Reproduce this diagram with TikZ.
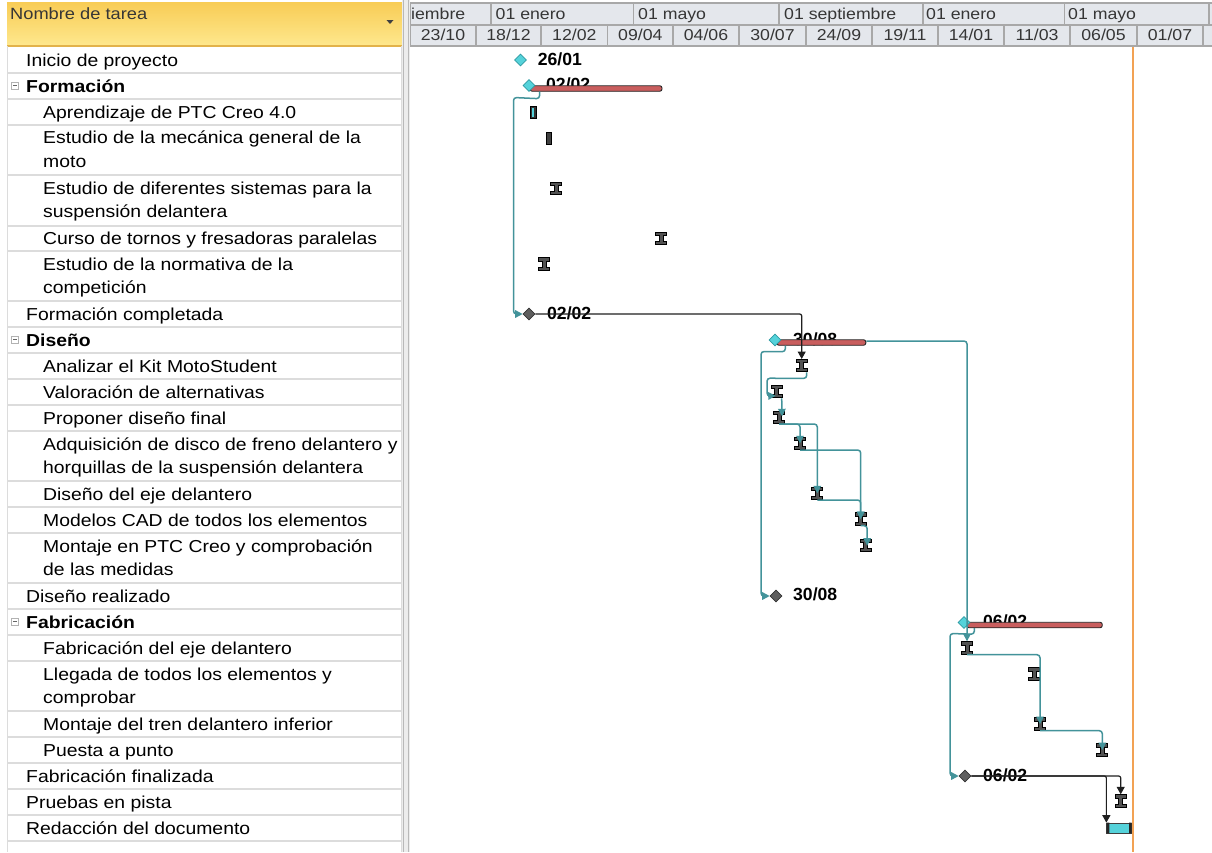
\documentclass[tikz,border=0pt]{standalone}
\usepackage{fontspec}
\setmainfont[FakeStretch=1.12]{Liberation Sans}
\newfontfamily\msfont{Liberation Sans}
\usetikzlibrary{calc,arrows.meta,shapes.geometric}
\definecolor{teal1}{HTML}{43939A}
\definecolor{redbar}{HTML}{C95E5E}
\definecolor{cyanms}{HTML}{55D2DA}
\definecolor{cyanedge}{HTML}{2E9AA3}
\definecolor{grayms}{HTML}{5E5E5E}
\definecolor{hdrfill}{HTML}{E4E7EC}
\definecolor{hdrline}{HTML}{A8A8A8}
\definecolor{rowline}{HTML}{DCDCDC}
\definecolor{ytop}{HTML}{F8CC55}
\definecolor{ybot}{HTML}{FEE88E}
\definecolor{yline}{HTML}{E2B24A}
\definecolor{orangeline}{HTML}{F2A254}
\definecolor{hdrtext}{HTML}{363636}
\definecolor{splitfill}{HTML}{ECECEC}
\definecolor{splitline}{HTML}{B8B8B8}
\tikzset{
  link/.style={draw=teal1, line width=1.5, rounded corners=3, -{Triangle[length=7.5,width=7.5]}},
  blink/.style={draw=black!88, line width=1.2, rounded corners=2, -{Triangle[length=7.5,width=8]}},
  rowtxt/.style={anchor=base west, inner sep=0, font=\fontsize{17.3}{20}\selectfont},
  rowbold/.style={rowtxt, font=\fontsize{17.3}{20}\selectfont\bfseries},
  mslabel/.style={anchor=base west, inner sep=0, font=\msfont\fontsize{17.6}{20}\selectfont\bfseries},
  hdrtxt/.style={inner sep=0, anchor=base, font=\fontsize{15.8}{18}\selectfont, text=hdrtext},
  mscyan/.style={diamond, inner sep=0, minimum width=12, minimum height=12, fill=cyanms, draw=cyanedge, line width=0.6},
  msgray/.style={diamond, inner sep=0, minimum width=12, minimum height=12, fill=grayms, draw=black!80, line width=0.6},
  sumbar/.style={rectangle, rounded corners=2.2, minimum height=5.5, inner sep=0, fill=redbar, draw=black!85, line width=0.9},
  ibeamsty/.style={fill=black!68, draw=black, line width=0.9},
}
\newcommand\ibeam[3]{%
  \node[inner sep=0, minimum width=11, minimum height=13] (#1) at (#2,#3) {};
  \filldraw[ibeamsty] (#2-5.5,#3-6.2) -- (#2+5.5,#3-6.2) -- (#2+5.5,#3-3) -- (#2+2,#3-3) -- (#2+2,#3+3) -- (#2+5.5,#3+3) -- (#2+5.5,#3+6.2) -- (#2-5.5,#3+6.2) -- (#2-5.5,#3+3) -- (#2-2,#3+3) -- (#2-2,#3-3) -- (#2-5.5,#3-3) -- cycle;
}
\begin{document}
\begin{tikzpicture}[x=1pt,y=-1pt]
\useasboundingbox (0,0) rectangle (1212,852);
\fill[white] (0,0) rectangle (1212,852);

% ---------- task table ----------
\shade[top color=ytop, bottom color=ybot] (7,2) rectangle (402,46);
\draw[yline, line width=1.2] (7,46) -- (402,46);
\node[anchor=base west, inner sep=0, font=\fontsize{16.3}{18}\selectfont, text=hdrtext] (hname) at (10,19) {Nombre de tarea};
\fill[black!75] (386.5,20) -- (393.5,20) -- (390,24) -- cycle;

\foreach \y in {73,99,125,175,226,251,301,327,353,379,405,431,481,507,533,583,609,635,661,711,737,763,789,815,841}
  \draw[rowline, line width=1.6] (7,\y) -- (402,\y);
\draw[rowline, line width=1.2] (7.5,46) -- (7.5,852);
\draw[rowline, line width=1.2] (401.5,46) -- (401.5,852);
\fill[splitfill] (402,0) rectangle (410,852);
\draw[splitline, line width=1] (403.5,0) -- (403.5,852) (408.5,0) -- (408.5,852);

% minus boxes
\foreach \y/\n in {85.7/mA,339.7/mB,621.7/mC}{
  \node[draw=black!30, fill=white, minimum size=7, inner sep=0, line width=0.6] (\n) at (15,\y) {};
  \draw[black!60, line width=0.8] (12.8,\y) -- (17.2,\y);
}

% row texts
\node[rowtxt] (r1) at (26,66.5) {Inicio de proyecto};
\node[rowbold] (r2) at (26,92.5) {Formación};
\node[rowtxt] (r3) at (43,118.5) {Aprendizaje de PTC Creo 4.0};
\node[rowtxt] (r4a) at (43,143.5) {Estudio de la mecánica general de la};
\node[rowtxt] (r4b) at (43,167.5) {moto};
\node[rowtxt] (r5a) at (43,194.5) {Estudio de diferentes sistemas para la};
\node[rowtxt] (r5b) at (43,217.5) {suspensión delantera};
\node[rowtxt] (r6) at (43,244.5) {Curso de tornos y fresadoras paralelas};
\node[rowtxt] (r7a) at (43,270.5) {Estudio de la normativa de la};
\node[rowtxt] (r7b) at (43,293.5) {competición};
\node[rowtxt] (r8) at (26,320.5) {Formación completada};
\node[rowbold] (r9) at (26,346.5) {Diseño};
\node[rowtxt] (r10) at (43,372.5) {Analizar el Kit MotoStudent};
\node[rowtxt] (r11) at (43,398.5) {Valoración de alternativas};
\node[rowtxt] (r12) at (43,424.5) {Proponer diseño final};
\node[rowtxt] (r13a) at (43,450.5) {Adquisición de disco de freno delantero y};
\node[rowtxt] (r13b) at (43,473.5) {horquillas de la suspensión delantera};
\node[rowtxt] (r14) at (43,500.5) {Diseño del eje delantero};
\node[rowtxt] (r15) at (43,526.5) {Modelos CAD de todos los elementos};
\node[rowtxt] (r16a) at (43,552.5) {Montaje en PTC Creo y comprobación};
\node[rowtxt] (r16b) at (43,575.5) {de las medidas};
\node[rowtxt] (r17) at (26,602.5) {Diseño realizado};
\node[rowbold] (r18) at (26,628.5) {Fabricación};
\node[rowtxt] (r19) at (43,654.5) {Fabricación del eje delantero};
\node[rowtxt] (r20a) at (43,680.5) {Llegada de todos los elementos y};
\node[rowtxt] (r20b) at (43,703.5) {comprobar};
\node[rowtxt] (r21) at (43,730.5) {Montaje del tren delantero inferior};
\node[rowtxt] (r22) at (43,756.5) {Puesta a punto};
\node[rowtxt] (r23) at (26,782.5) {Fabricación finalizada};
\node[rowtxt] (r24) at (26,808.5) {Pruebas en pista};
\node[rowtxt] (r25) at (26,834.5) {Redacción del documento};

% ---------- timescale ----------
\fill[hdrfill] (410,3) rectangle (1212,46);
\draw[hdrline, line width=1.4] (410,3) -- (1212,3) (410,25) -- (1212,25);
\draw[hdrline, line width=2] (410,46) -- (1212,46);
\draw[hdrline, line width=1.4] (410.7,3) -- (410.7,46);
\foreach \x in {491,633.5,779,923,1064.5,1209}
  \draw[hdrline, line width=1.4] (\x,3) -- (\x,25);
\foreach \x in {476,541,607.5,673,739,806,872,938,1004,1070,1137,1203}
  \draw[hdrline, line width=1.4] (\x,25) -- (\x,46);
\node[hdrtxt, anchor=base west] (m0) at (411,19) {iembre};
\node[hdrtxt, anchor=base west] (m1) at (495.5,19) {01 enero};
\node[hdrtxt, anchor=base west] (m2) at (638,19) {01 mayo};
\node[hdrtxt, anchor=base west] (m3) at (784,19) {01 septiembre};
\node[hdrtxt, anchor=base west] (m4) at (926,19) {01 enero};
\node[hdrtxt, anchor=base west] (m5) at (1068,19) {01 mayo};
\foreach \x/\t [count=\i] in {443/23\slash 10,508.5/18\slash 12,574.3/12\slash 02,640.3/09\slash 04,706/04\slash 06,772.5/30\slash 07,839/24\slash 09,905/19\slash 11,971/14\slash 01,1037/11\slash 03,1103.5/06\slash 05,1170/01\slash 07}
  \node[hdrtxt] (w\i) at (\x,40.5) {\t};

% current date line
\draw[orangeline, line width=1.4] (1133,47) -- (1133,852);

% ---------- milestone / summary labels ----------
\node[mslabel] (l1) at (537.7,65) {26/01};
\node[mslabel] (l2) at (546,90) {02/02};
\node[mslabel] (l3) at (547,319) {02/02};
\node[mslabel] (l4) at (793,345) {30/08};
\node[mslabel] (l5) at (793,600.6) {30/08};
\node[mslabel] (l6) at (983,627) {06/02};
\node[mslabel] (l7) at (983,781) {06/02};

% ---------- summary bars ----------
\node[sumbar, minimum width=132] (Sform) at (596,88.5) {};
\node[sumbar, minimum width=89] (Sdis) at (821.3,342.5) {};
\node[sumbar, minimum width=135.5] (Sfab) at (1034.5,625) {};

% ---------- milestones ----------
\node[mscyan] (Mini) at (520.5,60) {};
\node[mscyan] (Dform) at (529,85.5) {};
\node[msgray] (Mformc) at (529,314) {};
\node[mscyan] (Ddis) at (775,340) {};
\node[msgray] (Mdisr) at (776,596) {};
\node[mscyan] (Dfab) at (964,622.5) {};
\node[msgray] (Mfabf) at (965,776) {};

% ---------- tasks ----------
\node[draw=black, fill=black!80, line width=0.8, minimum width=6, minimum height=12, inner sep=0] (tapr) at (533,112) {};
\fill[cyanms] (532.3,107.5) rectangle (533.9,117);
\node[draw=black, fill=black!75, line width=0.8, minimum width=5, minimum height=12, inner sep=0] (tmec) at (549.3,138) {};
\ibeam{tdif}{556}{188.3}
\ibeam{tcur}{661}{238.3}
\ibeam{tnorm}{544.3}{264}
\ibeam{tanal}{801.7}{365.7}
\ibeam{tval}{776.7}{391.7}
\ibeam{tprop}{779}{417.3}
\ibeam{tadq}{800}{443.3}
\ibeam{teje}{817.3}{493.3}
\ibeam{tcad}{860.7}{519}
\ibeam{tmont}{865.7}{545.7}
\ibeam{tfabeje}{967}{648}
\ibeam{tlleg}{1034}{674}
\ibeam{ttren}{1040}{724}
\ibeam{tpuesta}{1102.3}{750}
\ibeam{tprue}{1120.7}{801}
\node[draw=black!75, fill=cyanms, line width=0.7, minimum width=25, minimum height=10, inner sep=0] (tred) at (1119.2,828) {};
\fill[black!85] (1106.7,822.7) rectangle (1109.3,833.3) (1129.1,822.7) rectangle (1131.7,833.3);

% ---------- connectors ----------
\draw[link] ($(Sform.south west)+(10,0)$) -- ++(0,7) -- (513.5,97.5) -- (513.5,0 |- Mformc) -- (Mformc.west);
\draw[blink] (Mformc.east) -| (tanal.north);
\draw[link] ($(Sdis.south west)+(9,0)$) -- ++(0,6) -- (761,351.5) -- (761,0 |- Mdisr) -- (Mdisr.west);
\draw[link] ($(Sdis.east)+(0,-1.5)$) -| (tfabeje.north);
\draw[link] ($(tanal.south)+(5,0)$) -- ++(0,6) -- (767,378.2) -- (767,396) -- ($(tval.center)+(-1,4)$);
\draw[link] ($(tval.south)+(5,0)$) -- ($(tprop.center)+(3,-1)$);
\draw[link] (tprop.south) -| (tadq.center);
\draw[link] (tprop.south) -| (teje.center);
\draw[link] (tadq.south) -| (tcad.center);
\draw[link] (teje.south) -| (tcad.center);
\draw[link] (tcad.south) -| ($(tmont.center)+(1.5,0)$);
\draw[link] ($(Sfab.south west)+(8,0)$) -- ++(0,6) -- (950,633.5) -- (950,0 |- Mfabf) -- (Mfabf.west);
\draw[link] (tfabeje.south) -| (ttren.center);
\draw[link] (ttren.south) -| (tpuesta.center);
\draw[blink] (Mfabf.east) -| (tprue.north);
\draw[blink] (Mfabf.east) -| (tred.north west);
\end{tikzpicture}
\end{document}
